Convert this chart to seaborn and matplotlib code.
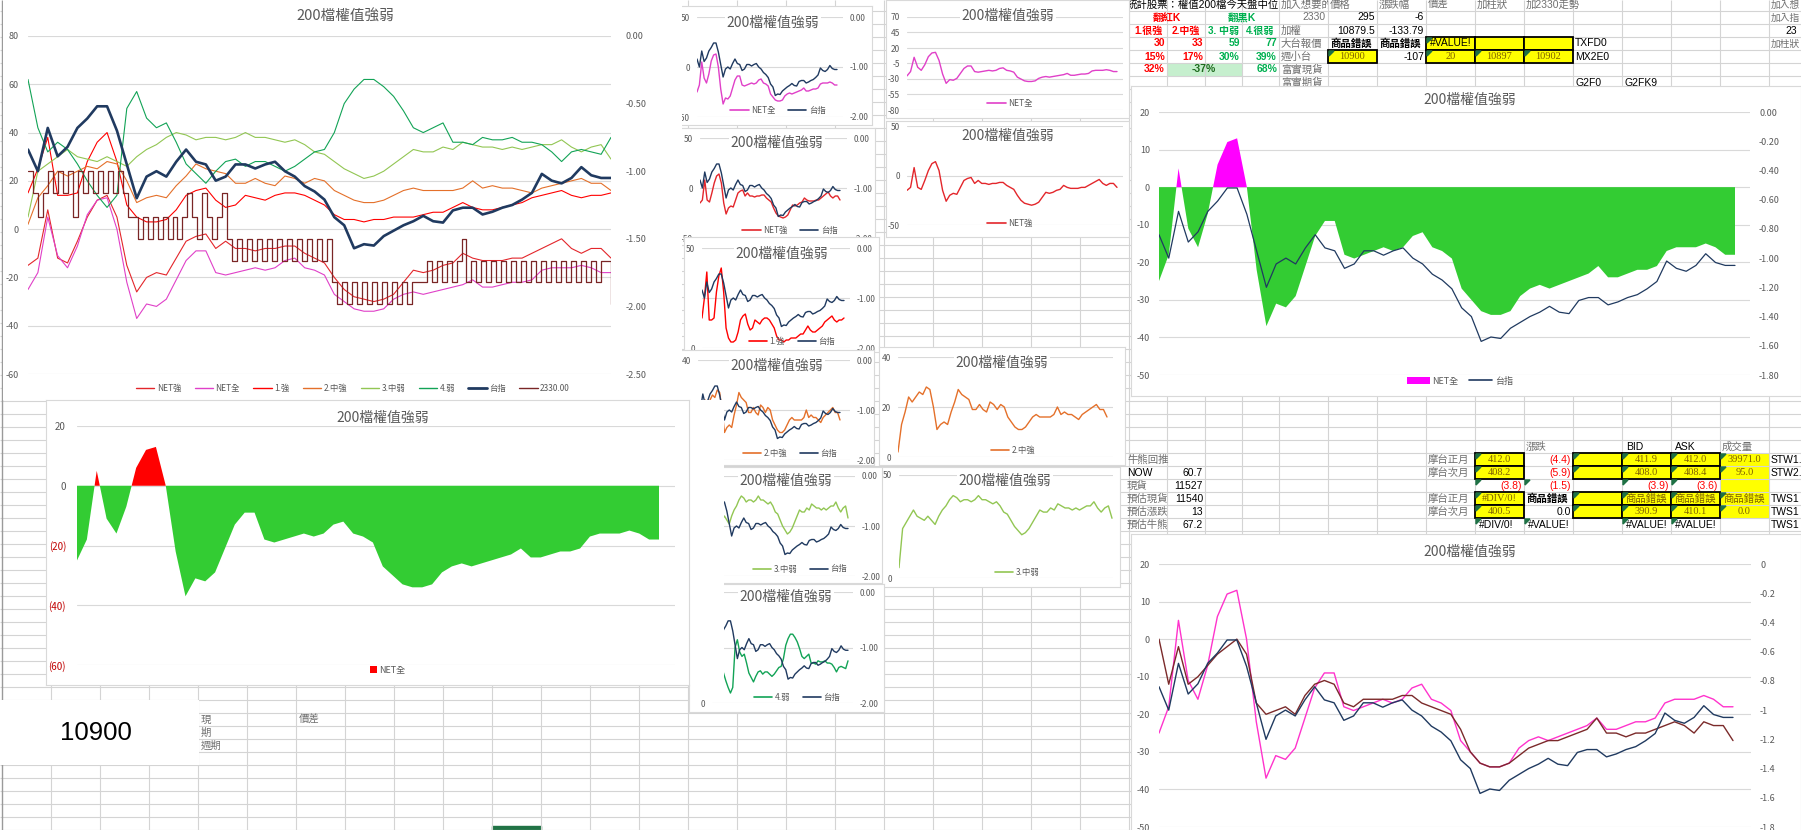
import numpy as np
import pandas as pd
import seaborn as sns
import matplotlib
matplotlib.use("Agg")
import matplotlib.pyplot as plt
from matplotlib.patches import Rectangle, Polygon
from matplotlib.lines import Line2D

# ---------------- data ----------------
net_all = [-25, -18, 5, -11, -16, -7, 6, 12, 13, 0,
           -22, -37, -31, -32, -29, -21, -13, -9, -9, -18,
           -19, -18, -17, -16, -17, -16, -13, -12, -16, -17,
           -19, -27, -30, -33, -34, -34, -33, -29, -27, -26,
           -27, -26, -25, -24, -23, -21, -24, -24, -23, -22,
           -22, -21, -17, -16, -16, -16, -15, -16, -18, -18]
net_strong = [-15, -12, 8, -12, -14, -5, 5, 12, 14, 5,
              -15, -26, -20, -18, -19, -12, -5, -3, -2, -8,
              -5, -8, -8, -9, -8, -8, -7, -7, -10, -12,
              -14, -20, -25, -28, -29, -30, -29, -27, -22, -17,
              -18, -17, -15, -14, -10, -12, -13, -13, -13, -12,
              -12, -10, -8, -6, -4, -8, -10, -8, -8, -12]
strong_1 = [15, 25, 38, 14, 14, 15, 28, 36, 40, 28,
            10, 5, 3, 3, 4, 8, 14, 16, 17, 12,
            9, 10, 14, 13, 12, 14, 15, 15, 14, 12,
            10, 6, 4, 4, 3, 4, 4, 5, 5, 5,
            6, 7, 7, 9, 11, 9, 8, 8, 9, 10,
            11, 13, 14, 15, 16, 14, 13, 14, 14, 15]
mid_strong_2 = [2, 13, 18, 24, 22, 24, 26, 25, 28, 27,
                20, 11, 13, 14, 13, 18, 22, 27, 25, 24,
                23, 19, 19, 21, 19, 18, 22, 21, 19, 21,
                20, 16, 14, 12, 11, 11, 12, 14, 16, 17,
                16, 16, 16, 16, 17, 20, 17, 18, 17, 17,
                16, 15, 17, 18, 19, 20, 21, 19, 19, 16]
mid_weak_3 = [5, 24, 27, 30, 33, 30, 29, 28, 30, 28,
              26, 30, 33, 35, 38, 40, 39, 37, 38, 38,
              37, 38, 40, 38, 38, 37, 36, 37, 35, 32,
              31, 28, 25, 23, 21, 22, 24, 27, 30, 33,
              32, 32, 34, 33, 36, 35, 34, 34, 33, 34,
              33, 34, 35, 35, 37, 34, 32, 34, 35, 29]
weak_4 = [62, 42, 32, 36, 33, 27, 20, 14, 9, 14,
          50, 57, 46, 42, 44, 36, 27, 23, 19, 24,
          28, 29, 26, 28, 28, 26, 24, 26, 29, 32,
          33, 40, 52, 58, 62, 62, 59, 55, 49, 42,
          40, 42, 44, 36, 36, 35, 38, 37, 37, 38,
          36, 36, 35, 32, 28, 32, 33, 32, 31, 38]
taiex = [-0.84, -1.00, -0.68, -0.89, -0.82, -0.68, -0.61, -0.52, -0.52, -0.70,
         -0.95, -1.20, -1.04, -1.00, -1.04, -0.93, -0.84, -0.93, -0.95, -1.07,
         -1.04, -0.95, -0.95, -0.98, -0.95, -0.93, -1.00, -1.04, -1.11, -1.15,
         -1.21, -1.34, -1.40, -1.57, -1.54, -1.55, -1.48, -1.44, -1.40, -1.37,
         -1.33, -1.37, -1.38, -1.29, -1.27, -1.27, -1.32, -1.30, -1.27, -1.25,
         -1.21, -1.16, -1.02, -1.07, -1.09, -1.05, -0.97, -1.03, -1.05, -1.05]
# 2330 flips between price levels many times; read at a finer step (118 samples)
tsmc_2330 = [24, 15, 5, 15, 24, 15, 24, 15, 24, 5,
             24, 15, 24, 15, 24, 15, 24, 15, 24,
             15, 5,
             5, -4, 5, -4, 5, -4, 5, -4, 5, -4, 5,
             15, 5, -4, 15, 5, -4, 5, 15,
             -4, -13, -4, -13, -4, -13, -4, -13, -4, -13, -4,
             -13, -4, -13, -4, -13, -4, -13, -4, -13, -4,
             -22, -31, -22, -31, -22, -31, -22, -31, -22, -31,
             -22, -31, -22, -31, -22, -31, -22,
             -22, -22,
             -13, -22, -13, -22, -13, -22, -13, -4, -22, -13,
             -22, -13, -22, -13, -22, -13, -22, -13, -22, -13,
             -22, -13, -22, -13, -22, -13, -22, -13, -22, -13,
             -22, -13, -22, -13, -22, -13,
             -13, -31]
weighted_line = [0, -12, -2, -12, -10, -7, -4, -2, 0, -4,
                 -17, -20, -19, -18, -20, -15, -12, -11, -12, -17,
                 -18, -16, -16, -16, -16, -15, -15, -17, -18, -19,
                 -20, -24, -30, -33, -34, -34, -33, -31, -29, -28,
                 -27, -27, -26, -25, -24, -21, -25, -25, -26, -25,
                 -25, -24, -23, -22, -23, -25, -22, -23, -23, -27]

main_labels = ["NET強", "NET全", "1.強", "2.中強", "3.中弱", "4.弱", "台指", "2330.00"]
TITLE = "200檔權值強弱"

C_NETS = '#E3262B'
C_NETA = '#E040C8'
C_S1 = '#FF0000'
C_S2 = '#E4702A'
C_S3 = '#92C653'
C_S4 = '#12A356'
C_TX = '#203A60'
C_2330 = '#7A2626'
C_BROWN = '#7B2A2A'
GRAY = '#595959'

W, H = 1801, 830
sns.set_style("white")
plt.rcParams['font.family'] = ['Noto Sans CJK TC', 'DejaVu Sans']
plt.rcParams['axes.unicode_minus'] = False
TF = ['Liberation Sans', 'Noto Sans CJK TC']
SF = ['Liberation Serif', 'Noto Sans CJK TC']

fig = plt.figure(figsize=(W / 100, H / 100), dpi=100)
fig.patch.set_facecolor('white')
N = len(net_all)
xs = np.arange(N)
xs_2330 = np.linspace(0, N - 1, len(tsmc_2330))


def pos(x0, y0, x1, y1):
    return [x0 / W, 1 - y1 / H, (x1 - x0) / W, (y1 - y0) / H]


def add_box(x0, y0, x1, y1, z, edge='#D9D9D9'):
    ax = fig.add_axes(pos(x0, y0, x1, y1))
    ax.set_zorder(z)
    ax.set_facecolor('white')
    ax.set_xticks([])
    ax.set_yticks([])
    for s in ax.spines.values():
        if edge is None:
            s.set_visible(False)
        else:
            s.set_color(edge)
            s.set_linewidth(0.8)
    return ax


def add_plot(x0, y0, x1, y1, z):
    ax = fig.add_axes(pos(x0, y0, x1, y1))
    ax.set_zorder(z)
    ax.patch.set_visible(False)
    for s in ax.spines.values():
        s.set_visible(False)
    ax.tick_params(axis='x', bottom=False, labelbottom=False)
    return ax


def set_left(ax, lim, ticks, labels, pad, size):
    ax.set_ylim(*lim)
    ax.set_yticks(ticks)
    ax.set_yticklabels(labels)
    ax.tick_params(axis='y', length=0, pad=pad * 0.72, labelsize=size, labelcolor=GRAY)
    ax.yaxis.grid(True, color='#D9D9D9', linewidth=0.8)
    ax.xaxis.grid(False)
    ax.set_axisbelow(True)
    ax.set_xlabel('')
    ax.set_ylabel('')


def new_right(ax, z):
    axr = ax.twinx()
    axr.set_zorder(z)
    axr.patch.set_visible(False)
    for s in axr.spines.values():
        s.set_visible(False)
    return axr


def set_right(axr, lim, ticks, labels, pad, size):
    axr.set_ylim(*lim)
    axr.set_yticks(ticks)
    axr.set_yticklabels(labels)
    axr.tick_params(axis='y', length=0, pad=pad * 0.72, labelsize=size, labelcolor=GRAY)
    axr.grid(False)
    axr.set_xlabel('')
    axr.set_ylabel('')


def put_title(ax, cx, cy, size=10):
    ax.text(cx / W, 1 - cy / H, TITLE, transform=fig.transFigure, ha='center', va='center',
            fontsize=size, color=GRAY,
            bbox=dict(facecolor='white', edgecolor='none', pad=1.0))


def put_legend(ax, items, cx, cy, size=6, hl=2.2, colsp=1.5):
    handles, labels = [], []
    for kind, color, lab, lw in items:
        if kind == 'line':
            handles.append(Line2D([], [], color=color, lw=lw))
        else:
            handles.append(Rectangle((0, 0), 1, 1, facecolor=color, edgecolor='none'))
        labels.append(lab)
    leg = ax.legend(handles, labels, loc='center', bbox_to_anchor=(cx / W, 1 - cy / H),
                    bbox_transform=fig.transFigure, ncol=len(items), frameon=False,
                    fontsize=size, handlelength=hl, handleheight=0.7, handletextpad=0.3,
                    columnspacing=colsp, borderpad=0, borderaxespad=0)
    for t in leg.get_texts():
        t.set_color(GRAY)


def line(ax, vals, color, lw, x=None, **kw):
    sns.lineplot(x=xs if x is None else x, y=vals, ax=ax, color=color, linewidth=lw,
                 legend=False, **kw)


def xlim_for(ax, x0, x1, dend):
    ax.set_xlim(0, (N - 1) * (x1 - x0) / (dend - x0))


# ---------------- spreadsheet background ----------------
bg = fig.add_axes([0, 0, 1, 1])
bg.set_zorder(0)
bg.set_xlim(0, W)
bg.set_ylim(H, 0)
bg.axis('off')
row_lines = [11 + 13 * k for k in range(-1, 64)]
col_lines = [51 + 49 * k for k in range(23)] + [1167, 1205, 1242] + [1279 + 49 * k for k in range(11)]
bg.hlines(row_lines, 0, W, color='#D4D4D4', lw=0.8)
bg.vlines(col_lines, 0, H, color='#D4D4D4', lw=0.8)
bg.vlines([2], 0, H, color='#9A9A9A', lw=1.0)
bg.add_patch(Rectangle((492, 826), 49, 5, color='#217346'))


def ct(x, y, s, ha='left', color='black', size=7.5, weight='normal', clip=None, fam=None):
    t = bg.text(x, y, s, ha=ha, va='center', color=color, fontsize=size, fontweight=weight,
                family=fam if fam else TF, zorder=4)
    if clip is not None:
        r = Rectangle((clip[0], clip[1]), clip[2] - clip[0], clip[3] - clip[1],
                      transform=bg.transData, fill=False, visible=False)
        t.set_clip_path(r)
        t.set_clip_on(True)
    return t


def ycell(c0, r0, w=49, h=13, border=True):
    bg.add_patch(Rectangle((c0, r0), w, h, facecolor='#FFFF00',
                           edgecolor='black' if border else 'none',
                           lw=1.3 if border else 0, zorder=2))


def tri(x, y):
    bg.add_patch(Polygon([[x + 1, y + 1], [x + 6, y + 1], [x + 1, y + 6]], closed=True,
                         color='#1E7145', zorder=3))


def rt(r):
    return 4.5 + 13 * r


def rtop(r):
    return -2 + 13 * r


def rb(r):
    return 446.5 + 13 * r


def rbtop(r):
    return 440 + 13 * r


C = [1279 + 49 * k for k in range(11)]
LG = '#707070'
RED = '#FF0000'
GRN = '#00B050'
OLV = '#7F6000'

# top table
ct(1127, rt(0), '統計股票：權值200檔今天盤中位', clip=(1125, -2, 1279, 11))
ct(C[0] + 2, rt(0), '加入想要的', color=LG, clip=(C[0], -2, C[1], 11))
for k, s in zip(range(1, 6), ['價格', '漲跌幅', '價差', '加柱狀', '加2330走勢']):
    ct(C[k] + 2, rt(0), s, color=LG)
ct(C[10] + 2, rt(0), '加入想', color=LG, size=7)

ct(1167, rt(1), '翻紅K', ha='center', color=RED, weight='bold')
ct(1242, rt(1), '翻黑K', ha='center', color=GRN, weight='bold')
ct(C[1] - 2, rt(1), '2330', ha='right', color=LG)
ct(C[2] - 2, rt(1), '295', ha='right')
ct(C[3] - 2, rt(1), '-6', ha='right')
ct(C[10] + 2, rt(1), '加入指', color=LG, size=7)

for cx, s, col in [(1148, '1.很強', RED), (1186, '2.中強', RED), (1223, '3. 中弱', GRN), (1260, '4.很弱', GRN)]:
    ct(cx, rt(2), s, ha='center', color=col, weight='bold', size=7.2)
ct(C[0] + 2, rt(2), '加權', color=LG)
ct(C[2] - 2, rt(2), '10879.5', ha='right')
ct(C[3] - 2, rt(2), '-133.79', ha='right')
ct(1797, rt(2), '23', ha='right')

for xr, s, col in [(1165, '30', RED), (1203, '33', RED), (1240, '59', GRN), (1277, '77', GRN)]:
    ct(xr, rt(3), s, ha='right', color=col, weight='bold')
ct(C[0] + 2, rt(3), '大台報價', color=LG)
ct(C[1] + 2, rt(3), '商品錯誤', weight='bold')
ct(C[2] + 2, rt(3), '商品錯誤', weight='bold')
for k in (3, 4, 5):
    ycell(C[k], rtop(3))
tri(C[3], rtop(3))
ct(C[3] + 4, rt(3), '#VALUE!')
ct(C[6] + 2, rt(3), 'TXFD0')
ct(C[10] + 2, rt(3), '加柱狀', color=LG, size=7)

for xr, s, col in [(1165, '15%', RED), (1203, '17%', RED), (1240, '30%', GRN), (1277, '39%', GRN)]:
    ct(xr, rt(4), s, ha='right', color=col, weight='bold')
ct(C[0] + 2, rt(4), '週小台', color=LG)
ycell(C[1], rtop(4))
tri(C[1], rtop(4))
ct(C[1] + 24.5, rt(4), '10900', ha='center', color=OLV, fam=SF)
ct(C[3] - 2, rt(4), '-107', ha='right')
for k, s in [(3, '20'), (4, '10897'), (5, '10902')]:
    ycell(C[k], rtop(4))
    tri(C[k], rtop(4))
    ct(C[k] + 24.5, rt(4), s, ha='center', color=OLV, fam=SF)
ct(C[6] + 2, rt(4), 'MX2E0')

bg.add_patch(Rectangle((1167, rtop(5)), 75, 13, facecolor='#C6EFCE', edgecolor='none', zorder=1))
ct(1165, rt(5), '32%', ha='right', color=RED, weight='bold')
ct(1204, rt(5), '-37%', ha='center', color='#1E6B1E', weight='bold')
ct(1277, rt(5), '68%', ha='right', color=GRN, weight='bold')
ct(C[0] + 2, rt(5), '富實現貨', color=LG)
ct(C[0] + 2, rt(6), '富實期貨', color=LG)
ct(C[6] + 2, rt(6), 'G2F0')
ct(C[7] + 2, rt(6), 'G2FK9')

# bottom table
bg.add_patch(Rectangle((C[9], rbtop(1)), 49, 65, facecolor='#FFFF00', edgecolor='none', zorder=1))
ct(C[5] + 2, rb(0), '漲跌', color=LG)
ct(C[7] + 4, rb(0), 'BID')
ct(C[8] + 4, rb(0), 'ASK')
ct(C[9] + 2, rb(0), '成交量', color=LG)

left_rows = [('牛熊回推', None), ('NOW', '60.7'), ('現貨', '11527'), ('預估現貨', '11540'),
             ('預估漲跌', '13'), ('預估牛熊', '67.2')]
for i, (lab, val) in enumerate(left_rows, start=1):
    ct(1127, rb(i), lab, color=LG if lab != 'NOW' else 'black',
       clip=(1125, rbtop(i), 1167 if val else 1300, rbtop(i) + 13))
    if val:
        ct(1203, rb(i), val, ha='right')

for r, lab in [(1, '摩台正月'), (2, '摩台次月'), (4, '摩台正月'), (5, '摩台次月')]:
    ct(C[3] + 2, rb(r), lab, color=LG)

quote_rows = {
    1: ['412.0', '(4.4)', '', '411.9', '412.0', '39971.0', 'STW1.'],
    2: ['408.2', '(5.9)', '', '408.0', '408.4', '95.0', 'STW2.'],
    4: ['#DIV/0!', '商品錯誤', '', '商品錯誤', '商品錯誤', '商品錯誤', 'TWS1'],
    5: ['400.5', '0.0', '', '390.9', '410.1', '0.0', 'TWS1'],
}
for r, vals in quote_rows.items():
    for k in (4, 6, 7, 8):
        ycell(C[k], rbtop(r))
        tri(C[k], rbtop(r))
    ct(C[4] + 24.5, rb(r), vals[0], ha='center', color=OLV, fam=SF)
    if vals[1].startswith('('):
        ct(C[6] - 2, rb(r), vals[1], ha='right', color=RED)
    elif vals[1] == '0.0':
        ct(C[6] - 2, rb(r), vals[1], ha='right')
    else:
        ct(C[5] + 2, rb(r), vals[1], weight='bold')
    ct(C[7] + 24.5, rb(r), vals[3], ha='center', color=OLV, fam=SF)
    ct(C[8] + 24.5, rb(r), vals[4], ha='center', color=OLV, fam=SF)
    ct(C[9] + 24.5, rb(r), vals[5], ha='center', color=OLV, fam=SF)
    tri(C[9], rbtop(r))
    ct(C[10] + 2, rb(r), vals[6])
for xr, s in [(C[5] - 2, '(3.8)'), (C[6] - 2, '(1.5)'), (C[8] - 2, '(3.9)'), (C[9] - 2, '(3.6)')]:
    ct(xr, rb(3), s, ha='right', color=RED)
for k in (4, 5, 7, 8):
    tri(C[k], rbtop(3))
ct(C[4] + 4, rb(6), '#DIV/0!')
ct(C[5] + 4, rb(6), '#VALUE!')
ct(C[7] + 4, rb(6), '#VALUE!')
ct(C[8] + 4, rb(6), '#VALUE!')
ct(C[10] + 2, rb(6), 'TWS1')
for k in (4, 5, 7, 8):
    tri(C[k], rbtop(6))

# small labels next to the 10900 box
ct(201, 719.5, '現', color=LG)
ct(201, 732.5, '期', color=LG)
ct(201, 745.5, '週期', color=LG)
ct(299, 719.5, '價差', color=LG)


# ---------------- middle column combo charts (left axis + 台指 on right) ----------------
def make_combo(box, plot, dend, z, vals, color, llim, lticks, ltl, title_xy, leg_xy, label):
    add_box(*box, z)
    x0, y0, x1, y1 = plot
    ax = add_plot(x0, y0, x1, y1, z + 0.3)
    line(ax, vals, color, 1.0)
    axr = new_right(ax, z + 0.6)
    line(axr, taiex, C_TX, 1.0)
    xlim_for(ax, x0, x1, dend)
    set_left(ax, llim, lticks, ltl, pad=7, size=6)
    set_right(axr, (-2, 0), [0, -1, -2], ['0.00', '-1.00', '-2.00'], pad=7, size=6)
    put_title(ax, *title_xy, size=10)
    put_legend(ax, [('line', color, label, 1.2), ('line', C_TX, '台指', 1.2)], *leg_xy, size=6)
    return ax


make_combo((672, 6, 872, 125), (697, 17, 843, 117), 837, 2, net_all, C_NETA,
           (-50, 50), [50, 0, -50], ['50', '0', '-50'], (773, 23), (778, 110), 'NET全')
make_combo((674, 128, 875, 245), (700, 138, 847, 238), 840, 3, net_strong, C_NETS,
           (-50, 50), [50, 0, -50], ['50', '0', '-50'], (777, 143), (790, 230), 'NET強')
make_combo((684, 237, 879, 352), (702, 248, 850, 348), 844, 4, strong_1, C_S1,
           (0, 50), [50, 25, 0], ['50', '', '0'], (782, 254), (792, 341), '1.強')
make_combo((672, 350, 874, 465), (698, 360, 850, 460), 840, 5, mid_strong_2, C_S2,
           (0, 40), [40, 20, 0], ['40', '20', '0'], (777, 366), (790, 453), '2.中強')
make_combo((690, 467, 882, 583), (705, 476, 855, 576), 848, 6, mid_weak_3, C_S3,
           (0, 50), [50, 25, 0], ['50', '', '0'], (786, 481), (800, 569), '3.中弱')
make_combo((689, 584, 884, 712), (712, 592, 853, 703), 848, 7, weak_4, C_S4,
           (0, 100), [100, 50, 0], ['100', '50', '0'], (786, 597), (797, 697), '4.弱')

# ---------------- main chart ----------------
add_box(3, 0, 682, 400, 10, edge=None)
m = add_plot(28, 36, 611, 374, 10.3)
for vals, col in [(net_strong, C_NETS), (net_all, C_NETA), (strong_1, C_S1),
                  (mid_strong_2, C_S2), (mid_weak_3, C_S3), (weak_4, C_S4)]:
    line(m, vals, col, 0.8)
line(m, tsmc_2330, C_2330, 0.9, x=xs_2330, drawstyle='steps-post')
mr = new_right(m, 10.6)
line(mr, taiex, C_TX, 1.9)
m.set_xlim(0, N - 1)
set_left(m, (-60, 80), [80, 60, 40, 20, 0, -20, -40, -60],
         ['80', '60', '40', '20', '0', '-20', '-40', '-60'], pad=9, size=6.5)
set_right(mr, (-2.5, 0), [0, -0.5, -1, -1.5, -2, -2.5],
          ['0.00', '-0.50', '-1.00', '-1.50', '-2.00', '-2.50'], pad=15, size=6.5)
put_title(m, 345, 16, size=10.5)
main_colors = [C_NETS, C_NETA, C_S1, C_S2, C_S3, C_S4, C_TX, C_2330]
put_legend(m, [('line', c, l, 2.0 if l == '台指' else 1.0) for c, l in zip(main_colors, main_labels)],
           353, 388, size=6, hl=2.2, colsp=1.6)

# ---------------- bottom-left area chart ----------------
add_box(689, 400, 724, 685, 11.8, edge=None)
add_box(46, 400, 689, 685, 12)
bl = add_plot(77, 426, 675, 665, 12.3)
arr = np.array(net_all, dtype=float)
bl.fill_between(xs, arr, 0, where=arr >= 0, interpolate=True, color='#FF0000', linewidth=0)
bl.fill_between(xs, arr, 0, where=arr <= 0, interpolate=True, color='#33CC33', linewidth=0)
xlim_for(bl, 77, 675, 659)
bl_ticks = [20, 0, -20, -40, -60]
set_left(bl, (-60, 20), bl_ticks, ['20', '0', '(20)', '(40)', '(60)'], pad=11, size=7)
for lbl, v in zip(bl.get_yticklabels(), bl_ticks):
    if v < 0:
        lbl.set_color('#C00000')
put_title(bl, 383, 418, size=10)
put_legend(bl, [('patch', '#FF0000', 'NET全', 1)], 388, 670, size=6.5, hl=0.7)


# ---------------- right middle single charts ----------------
def make_single(box, plot, dend, z, vals, color, llim, lticks, title_xy, leg_xy, label):
    add_box(*box, z)
    x0, y0, x1, y1 = plot
    ax = add_plot(x0, y0, x1, y1, z + 0.3)
    line(ax, vals, color, 1.0)
    xlim_for(ax, x0, x1, dend)
    set_left(ax, llim, lticks, [str(t) for t in lticks], pad=7, size=6)
    put_title(ax, *title_xy, size=10)
    put_legend(ax, [('line', color, label, 1.2)], *leg_xy, size=6)


make_single((886, 0, 1129, 118), (907, 17, 1123, 110), 1117, 5, net_all, C_NETA,
            (-80, 70), [70, 45, 20, -5, -30, -55, -80], (1008, 16), (1010, 103), 'NET全')
make_single((886, 121, 1129, 237), (907, 126, 1123, 225), 1117, 5, net_strong, C_NETS,
            (-50, 50), [50, 0, -50], (1008, 136), (1010, 223), 'NET強')
make_single((879, 347, 1125, 465), (898, 357, 1113, 457), 1107, 5, mid_strong_2, C_S2,
            (0, 40), [40, 20, 0], (1002, 363), (1013, 450), '2.中強')
make_single((880, 467, 1120, 587), (899, 475, 1113, 578), 1112, 5, mid_weak_3, C_S3,
            (0, 50), [50, 0], (1005, 481), (1017, 572), '3.中弱')

# ---------------- right area chart ----------------
add_box(1131, 86, 1801, 396, 5)
ra = add_plot(1159, 112, 1750, 375, 5.3)
ra.fill_between(xs, arr, 0, where=arr >= 0, interpolate=True, color='#FF00FF', linewidth=0)
ra.fill_between(xs, arr, 0, where=arr <= 0, interpolate=True, color='#33CC33', linewidth=0)
rar = new_right(ra, 5.6)
line(rar, taiex, C_TX, 0.9)
xlim_for(ra, 1159, 1750, 1735)
ra_ticks = [20, 10, 0, -10, -20, -30, -40, -50]
set_left(ra, (-50, 20), ra_ticks, [str(t) for t in ra_ticks], pad=9, size=6.5)
r_ticks = [0, -0.2, -0.4, -0.6, -0.8, -1.0, -1.2, -1.4, -1.6, -1.8]
set_right(rar, (-1.8, 0), r_ticks, ['%.2f' % t if t != 0 else '0.00' for t in r_ticks], pad=9, size=6.5)
put_title(ra, 1470, 100, size=10)
put_legend(ra, [('patch', '#FF00FF', 'NET全', 1), ('line', C_TX, '台指', 1.2)], 1460, 381,
           size=6.5, hl=2.5, colsp=1.2)

# ---------------- bottom-right line chart ----------------
add_box(1131, 534, 1801, 833, 5)
br = add_plot(1159, 564, 1751, 827, 5.3)
line(br, net_all, '#FF33CC', 1.0)
line(br, weighted_line, C_BROWN, 1.0)
brr = new_right(br, 5.6)
line(brr, taiex, C_TX, 1.0)
xlim_for(br, 1159, 1751, 1733)
set_left(br, (-50, 20), ra_ticks, [str(t) for t in ra_ticks], pad=9, size=6.5)
br_r_labels = ['0', '-0.2', '-0.4', '-0.6', '-0.8', '-1', '-1.2', '-1.4', '-1.6', '-1.8']
set_right(brr, (-1.8, 0), r_ticks, br_r_labels, pad=9, size=6.5)
put_title(br, 1470, 552, size=10)

# ---------------- 10900 text box ----------------
nb = add_box(0, 700, 199, 765, 5, edge=None)
nb.text(0.48, 0.5, '10900', transform=nb.transAxes, ha='center', va='center',
        fontsize=18.5, family=['Liberation Sans'], color='black')

fig.savefig('out.png', dpi=100)
